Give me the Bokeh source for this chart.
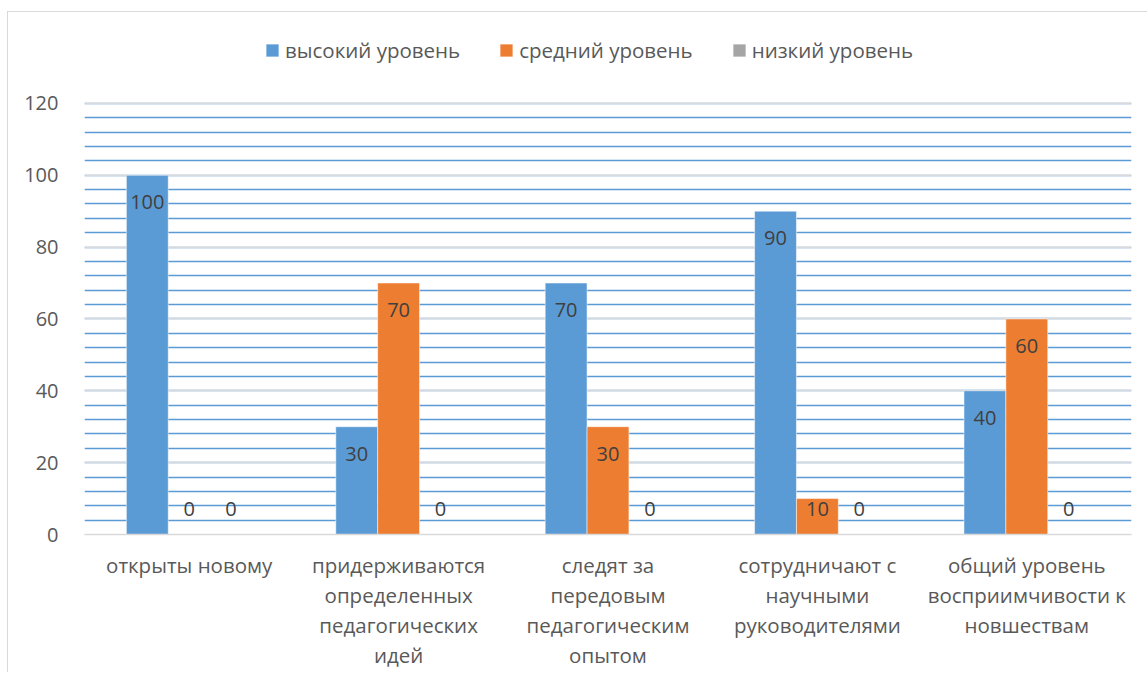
from bokeh.plotting import figure
from bokeh.models import (ColumnDataSource, FactorRange, Range1d, SingleIntervalTicker,
                          Legend, LegendItem)
from bokeh.transform import dodge
from bokeh.core.properties import value
from bokeh.embed import file_html
from bokeh.resources import INLINE

categories = [
    "открыты новому",
    "придерживаются\nопределенных\nпедагогических\nидей",
    "следят за\nпередовым\nпедагогическим\nопытом",
    "сотрудничают с\nнаучными\nруководителями",
    "общий уровень\nвосприимчивости к\nновшествам",
]
series_names = ["высокий уровень", "средний уровень", "низкий уровень"]
high = [100, 30, 70, 90, 40]
mid = [0, 70, 30, 10, 60]
low = [0, 0, 0, 0, 0]
colors = ["#5b9bd5", "#ed7d31", "#a5a5a5"]
y_axis_max = 120
y_headroom = 21.4  # space above the value axis reserved for the legend

FONT = "Open Sans"
TEXT_GRAY = "#595959"

def label_pos(vals):
    return [max(v - 7.5, 7) for v in vals]

src = ColumnDataSource(dict(
    cat=categories,
    high=high, mid=mid, low=low,
    high_txt=[str(v) for v in high], mid_txt=[str(v) for v in mid], low_txt=[str(v) for v in low],
    high_y=label_pos(high), mid_y=label_pos(mid), low_y=label_pos(low),
))

p = figure(x_range=FactorRange(*categories), y_range=Range1d(0, y_axis_max + y_headroom),
           frame_width=1047, frame_height=508, output_backend="svg", toolbar_location=None,
           min_border_left=76, min_border_right=16, min_border_top=14, min_border_bottom=10,
           styles={"margin-left": "7px", "margin-top": "11px",
                   "border-left": "1px solid #d9d9d9", "border-top": "1px solid #d9d9d9"})
p.outline_line_color = None
p.background_fill_color = "white"
p.border_fill_color = "white"

items = []
for key, off, col, name in zip(["high", "mid", "low"], [-0.2, 0.0, 0.2], colors, series_names):
    r = p.vbar(x=dodge("cat", off, range=p.x_range), top=key, width=0.2, source=src,
               fill_color=col, line_color="white", line_alpha=0.5, line_width=1)
    items.append(LegendItem(label=name, renderers=[r]))
    p.text(x=dodge("cat", off, range=p.x_range), y=key + "_y", text=key + "_txt", source=src,
           text_align="center", text_baseline="middle", text_color="#404040",
           text_font=value(FONT), text_font_size="20px")

legend = Legend(items=items, orientation="horizontal", location=(180, 470),
                label_text_font=FONT, label_text_font_size="20.5px", label_text_color=TEXT_GRAY,
                glyph_width=16, glyph_height=16, label_standoff=5, spacing=38,
                padding=0, margin=0,
                border_line_color=None, background_fill_alpha=0)
p.add_layout(legend, "center")

p.yaxis.ticker = SingleIntervalTicker(interval=20, num_minor_ticks=5)
p.yaxis.bounds = (0, y_axis_max)
p.yaxis.axis_line_color = None
p.yaxis.major_tick_line_color = None
p.yaxis.minor_tick_line_color = None
p.yaxis.major_label_text_font = FONT
p.yaxis.major_label_text_font_size = "20px"
p.yaxis.major_label_text_color = TEXT_GRAY
p.yaxis.major_label_standoff = 20

p.xaxis.axis_line_color = "#d9d9d9"
p.xaxis.axis_line_width = 1.5
p.xaxis.major_tick_line_color = None
p.xaxis.minor_tick_line_color = None
p.xaxis.major_label_text_font = FONT
p.xaxis.major_label_text_font_size = "20.5px"
p.xaxis.major_label_text_color = TEXT_GRAY
p.xaxis.major_label_text_line_height = 1.08
p.xaxis.major_label_standoff = 10
p.xaxis.major_label_orientation = "horizontal"

p.xgrid.grid_line_color = None
p.ygrid.bounds = (0, y_axis_max)
p.ygrid.grid_line_color = "#d9d9d9"
p.ygrid.grid_line_width = 1.5
p.ygrid.minor_grid_line_color = "#5b9bd5"
p.ygrid.minor_grid_line_width = 1.5

open("out.html", "w").write(file_html(p, INLINE))
